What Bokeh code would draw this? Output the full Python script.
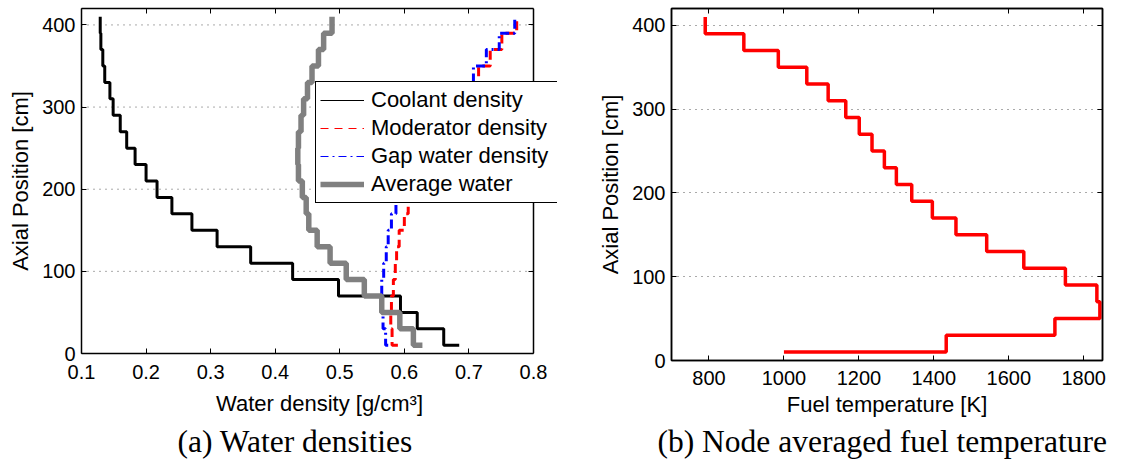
from bokeh.plotting import figure
from bokeh.models import Range1d, LinearAxis, FixedTicker, Legend, LegendItem
from bokeh.layouts import row, column
from bokeh.embed import file_html
from bokeh.resources import INLINE

# ---------------- data ----------------
z_nodes = [10, 30, 50, 70, 90, 110, 130, 150, 170, 190, 210,
           230, 250, 270, 290, 310, 330, 350, 370, 390, 410]

coolant_density = [0.685, 0.661, 0.620, 0.594, 0.498, 0.427, 0.362, 0.310, 0.271, 0.240, 0.217,
                   0.200, 0.183, 0.170, 0.160, 0.149, 0.144, 0.136, 0.133, 0.130, 0.129]
moderator_density = [0.590, 0.581, 0.579, 0.580, 0.583, 0.586, 0.588, 0.592, 0.600, 0.606, 0.613,
                     0.625, 0.638, 0.652, 0.667, 0.683, 0.699, 0.715, 0.733, 0.751, 0.774]
gap_water_density = [0.575, 0.571, 0.567, 0.565, 0.565, 0.568, 0.572, 0.575, 0.580, 0.587, 0.598,
                     0.610, 0.623, 0.637, 0.652, 0.668, 0.688, 0.707, 0.727, 0.747, 0.771]
average_water = [0.628, 0.614, 0.593, 0.565, 0.538, 0.510, 0.485, 0.465, 0.452, 0.448, 0.442,
                 0.436, 0.435, 0.436, 0.440, 0.444, 0.450, 0.457, 0.467, 0.475, 0.488]
fuel_temperature = [1000, 1433, 1723, 1843, 1835, 1751, 1640, 1541, 1459, 1396, 1341,
                    1300, 1268, 1235, 1201, 1165, 1118, 1061, 985, 893, 790]

density_ticks = [0.1, 0.2, 0.3, 0.4, 0.5, 0.6, 0.7, 0.8]
temperature_ticks = [800, 1000, 1200, 1400, 1600, 1800]
position_ticks = [0, 100, 200, 300, 400]

legend_labels = ["Coolant density", "Moderator density", "Gap water density", "Average water"]

SANS = "Liberation Sans"
SERIF = "Liberation Serif"
NAN = float("nan")


def stairs(vals, z):
    xs, ys = [vals[0]], [z[0]]
    for i in range(1, len(vals)):
        xs += [vals[i], vals[i]]
        ys += [z[i - 1], z[i]]
    return xs, ys


def base_axis(ax):
    ax.major_tick_in = 5
    ax.major_tick_out = 0
    ax.minor_tick_line_color = None
    ax.axis_line_width = 1.5
    ax.major_tick_line_width = 1


def blank_axis(ticks, **kw):
    ax = LinearAxis(ticker=FixedTicker(ticks=ticks), major_label_text_font_size="1px",
                    major_label_text_color=None, major_label_standoff=0, **kw)
    base_axis(ax)
    return ax


def style(p, xticks, yticks, tick_standoff, xlabel_standoff, title_standoff):
    for ax in p.xaxis + p.yaxis:
        base_axis(ax)
        ax.major_label_text_font = SANS
        ax.major_label_text_font_size = "20px"
        ax.major_label_text_color = "black"
        ax.axis_label_text_font = SANS
        ax.axis_label_text_font_size = "22px"
        ax.axis_label_text_font_style = "normal"
        ax.axis_label_text_color = "black"
        ax.major_label_standoff = 6
        ax.axis_label_standoff = 6
    p.xaxis.major_label_standoff = tick_standoff
    p.xaxis.axis_label_standoff = xlabel_standoff
    p.xaxis.ticker = FixedTicker(ticks=xticks)
    p.yaxis.ticker = FixedTicker(ticks=yticks)
    p.xgrid.visible = False
    p.title.text_font = SERIF
    p.title.text_font_style = "normal"
    p.title.text_font_size = "31.5px"
    p.title.text_color = "black"
    p.title.align = "left"
    p.title.standoff = title_standoff


# ---------------- (a) water densities ----------------
# frame runs a little past x = 0.8 so the legend can overhang the box, as in the original
pa = figure(frame_width=476, frame_height=345, x_range=Range1d(0.1, 0.8372), y_range=Range1d(0, 420),
            output_backend="svg", toolbar_location=None,
            min_border_left=81, min_border_right=2, min_border_top=8, min_border_bottom=0,
            title="(a) Water densities", title_location="below",
            x_axis_label="Water density [g/cm\u00b3]", y_axis_label="Axial Position [cm]")
style(pa, density_ticks, position_ticks, 11, 9, 6)
pa.title.offset = 96
pa.outline_line_color = None
pa.xaxis.bounds = (density_ticks[0], density_ticks[-1])
pa.ygrid.visible = False
pa.add_layout(blank_axis(density_ticks, bounds=(density_ticks[0], density_ticks[-1])), "above")
pa.add_layout(blank_axis(position_ticks, fixed_location=density_ticks[-1]), "right")
# dotted horizontal grid limited to the axes box
gy = position_ticks[1:]
pa.segment(x0=[density_ticks[0]] * len(gy), y0=gy, x1=[density_ticks[-1]] * len(gy), y1=gy,
           line_color="#555555", line_dash="1 5", line_width=1, level="underlay")

xs, ys = stairs(coolant_density, z_nodes)
pa.line(xs, ys, line_color="black", line_width=3)
xs, ys = stairs(moderator_density, z_nodes)
pa.line(xs, ys, line_color="red", line_width=3, line_dash="9 5")
xs, ys = stairs(gap_water_density, z_nodes)
pa.line(xs, ys, line_color="blue", line_width=3, line_dash="9 4 2 4")
xs, ys = stairs(average_water, z_nodes)
pa.line(xs, ys, line_color="#808080", line_width=5.5)

l1 = pa.line([NAN], [NAN], line_color="black", line_width=1)
l2 = pa.line([NAN], [NAN], line_color="red", line_width=1, line_dash="8 6")
l3 = pa.line([NAN], [NAN], line_color="blue", line_width=1, line_dash="8 4 2 4")
l4 = pa.line([NAN], [NAN], line_color="#808080", line_width=5.5)
legend = Legend(items=[LegendItem(label=lab, renderers=[r])
                       for lab, r in zip(legend_labels, [l1, l2, l3, l4])],
                location=(234, 150), padding=4, spacing=0, margin=0,
                label_height=28, label_width=183, glyph_height=20, glyph_width=44, label_standoff=7,
                label_text_font=SANS, label_text_font_size="22px", label_text_color="black",
                border_line_color="black", border_line_width=1.5, border_line_alpha=1.0,
                background_fill_color="white", background_fill_alpha=1.0)
pa.add_layout(legend)

# ---------------- (b) fuel temperature ----------------
pb = figure(frame_width=431, frame_height=352, x_range=Range1d(700, 1850), y_range=Range1d(0, 420),
            output_backend="svg", toolbar_location=None,
            min_border_left=112, min_border_right=18, min_border_top=8, min_border_bottom=0,
            title="(b) Node averaged fuel temperature", title_location="below",
            x_axis_label="Fuel temperature [K]", y_axis_label="Axial Position [cm]")
style(pb, temperature_ticks, position_ticks, 10, 4, 5)
pb.title.offset = -14
pb.outline_line_color = "black"
pb.outline_line_width = 1.5
pb.ygrid.grid_line_color = "#555555"
pb.ygrid.grid_line_dash = "1 5"
pb.ygrid.grid_line_width = 1
pb.add_layout(blank_axis(temperature_ticks), "above")
pb.add_layout(blank_axis(position_ticks), "right")

xs, ys = stairs(fuel_temperature, z_nodes)
pb.line(xs, ys, line_color="red", line_width=3.5)

layout = row(column(pa), column(pb), spacing=0)
open("out.html", "w").write(file_html(layout, INLINE))
